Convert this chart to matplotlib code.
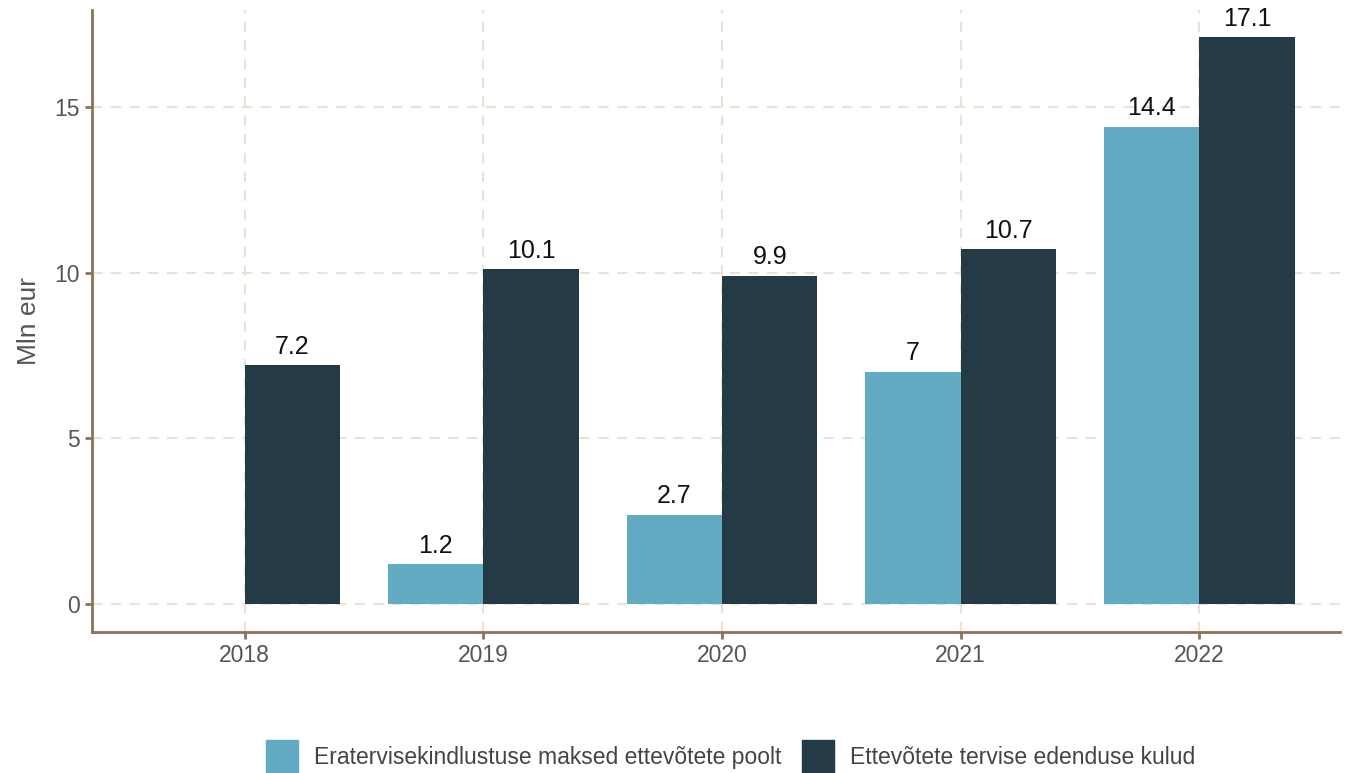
import numpy as np
import matplotlib
matplotlib.use('Agg')
import matplotlib.pyplot as plt
import matplotlib.patches as mpatches

plt.rcParams['font.family'] = ['Liberation Sans', 'DejaVu Sans']

years = ['2018', '2019', '2020', '2021', '2022']
insurance = [np.nan, 1.2, 2.7, 7.0, 14.4]
promotion = [7.2, 10.1, 9.9, 10.7, 17.1]
series_names = ['Eratervisekindlustuse maksed ettevõtete poolt',
                'Ettevõtete tervise edenduse kulud']

light = '#63abc2'
dark = '#243b45'
axis_col = '#8b7355'
grid_col = '#ece2d4'

fig = plt.figure(figsize=(13.48, 7.73), dpi=100)
ax = fig.add_axes([0.0682, 0.1824, 0.926, 0.805])

x = np.arange(len(years))
w = 0.4
b1 = ax.bar(x - w / 2, insurance, w, color=light, zorder=3)
b2 = ax.bar(x + w / 2, promotion, w, color=dark, zorder=3)

# value labels above each bar
for bars, vals in [(b1, insurance), (b2, promotion)]:
    for bar, v in zip(bars, vals):
        if np.isnan(v):
            continue
        ax.text(bar.get_x() + bar.get_width() / 2, v + 0.2, f'{v:g}',
                ha='center', va='bottom', fontsize=18, color='#111111', zorder=4)

ax.set_xlim(-0.64, 4.59)
ax.set_ylim(-0.845, 17.93)
ax.set_xticks(x)
ax.set_xticklabels(years)
ax.set_yticks([0, 5, 10, 15])
ax.set_ylabel('Mln eur', fontsize=19, color='#555555', labelpad=10)

ax.grid(True, color=grid_col, linestyle=(0, (5, 4)), linewidth=1.5, zorder=0)
for s in ['top', 'right']:
    ax.spines[s].set_visible(False)
for s in ['left', 'bottom']:
    ax.spines[s].set_color(axis_col)
    ax.spines[s].set_linewidth(2)
ax.tick_params(colors=axis_col, width=2, length=5, labelsize=16.5,
               labelcolor='#555555')

handles = [mpatches.Patch(color=light), mpatches.Patch(color=dark)]
fig.legend(handles, series_names, loc='lower center', ncol=2, frameon=False,
           fontsize=16.5, labelcolor='#444444', bbox_to_anchor=(0.542, -0.028),
           handlelength=1.4, handleheight=1.9, columnspacing=0.9, handletextpad=0.7)

fig.savefig('out.png', dpi=100)
